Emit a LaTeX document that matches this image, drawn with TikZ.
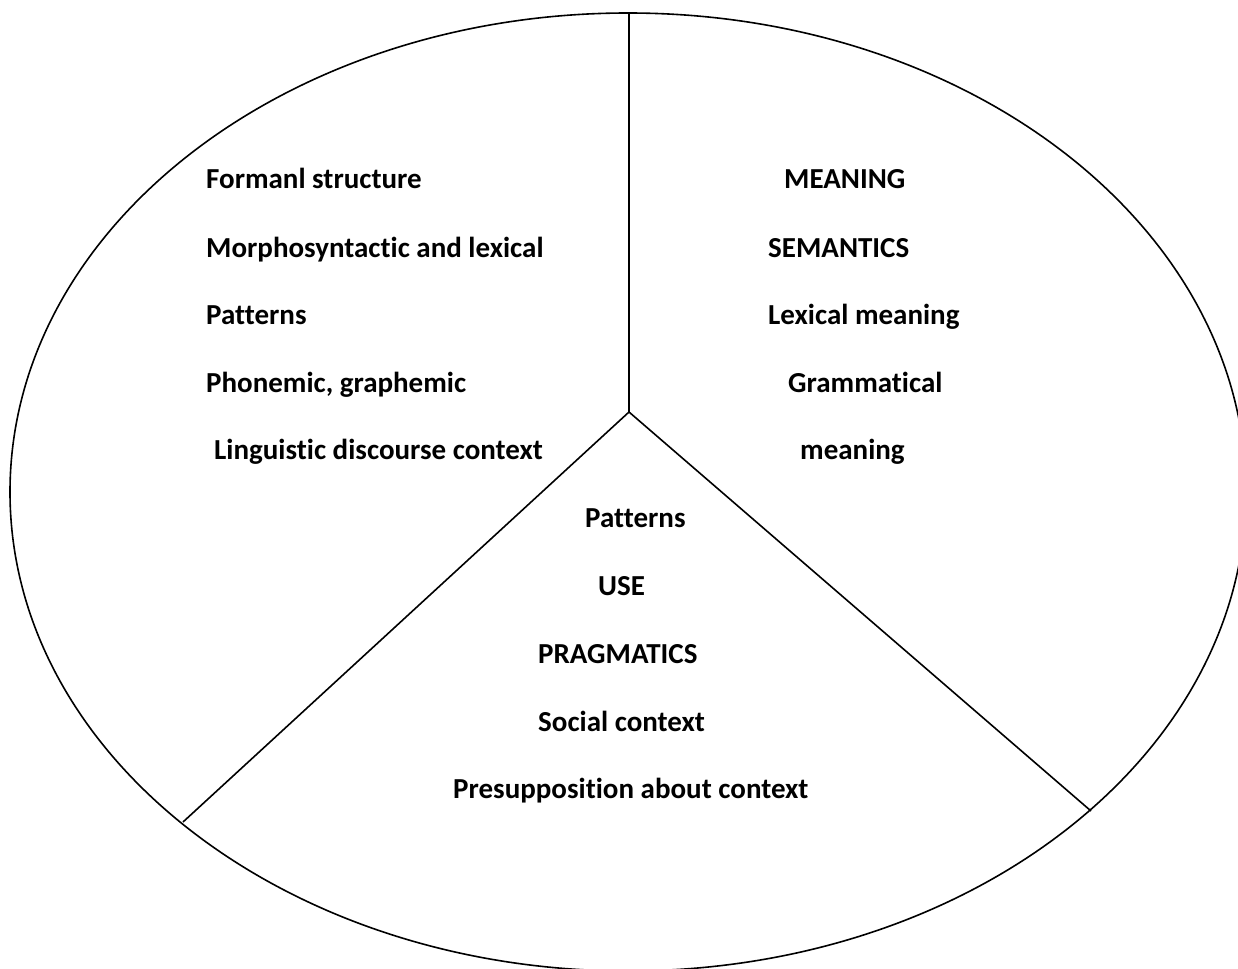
\documentclass[tikz,border=0pt]{standalone}
\usepackage{fontspec}
\setmainfont{Carlito}[Ligatures=NoCommon]
\begin{document}
\begin{tikzpicture}[x=1pt,y=-1pt,
  lbl/.style={anchor=base west,inner sep=0pt,font=\fontsize{29}{35}\selectfont\bfseries},
  edge/.style={line width=1.6pt}]
\useasboundingbox (0,0) rectangle (1238,968);
\clip (0,0) rectangle (1238,968);
\draw[edge] (628,492) ellipse [x radius=618, y radius=479];
\coordinate (top) at (629,13);
\coordinate (mid) at (629,412);
\coordinate (ll) at (183,822);
\coordinate (lr) at (1091,811);
\draw[edge] (top) -- (mid);
\draw[edge] (mid) -- (ll);
\draw[edge] (mid) -- (lr);
% left
\node[lbl] (l1) at (206,189) {Formanl structure};
\node[lbl] (l2) at (206,257) {Morphosyntactic and lexical};
\node[lbl] (l3) at (206,324) {Patterns};
\node[lbl] (l4) at (206,392) {Phonemic, graphemic};
\node[lbl] (l5) at (214,459) {Linguistic discourse context};
% right
\node[lbl] (r1) at (784,189) {MEANING};
\node[lbl] (r2) at (768,257) {SEMANTICS};
\node[lbl] (r3) at (768,324) {Lexical meaning};
\node[lbl] (r4) at (788,392) {Grammatical};
\node[lbl] (r5) at (800,459) {meaning};
% bottom
\node[lbl] (b1) at (585,527) {Patterns};
\node[lbl] (b2) at (598,595) {USE};
\node[lbl] (b3) at (538,663) {PRAGMATICS};
\node[lbl] (b4) at (538,731) {Social context};
\node[lbl] (b5) at (453,798) {Presupposition about context};
\end{tikzpicture}
\end{document}
